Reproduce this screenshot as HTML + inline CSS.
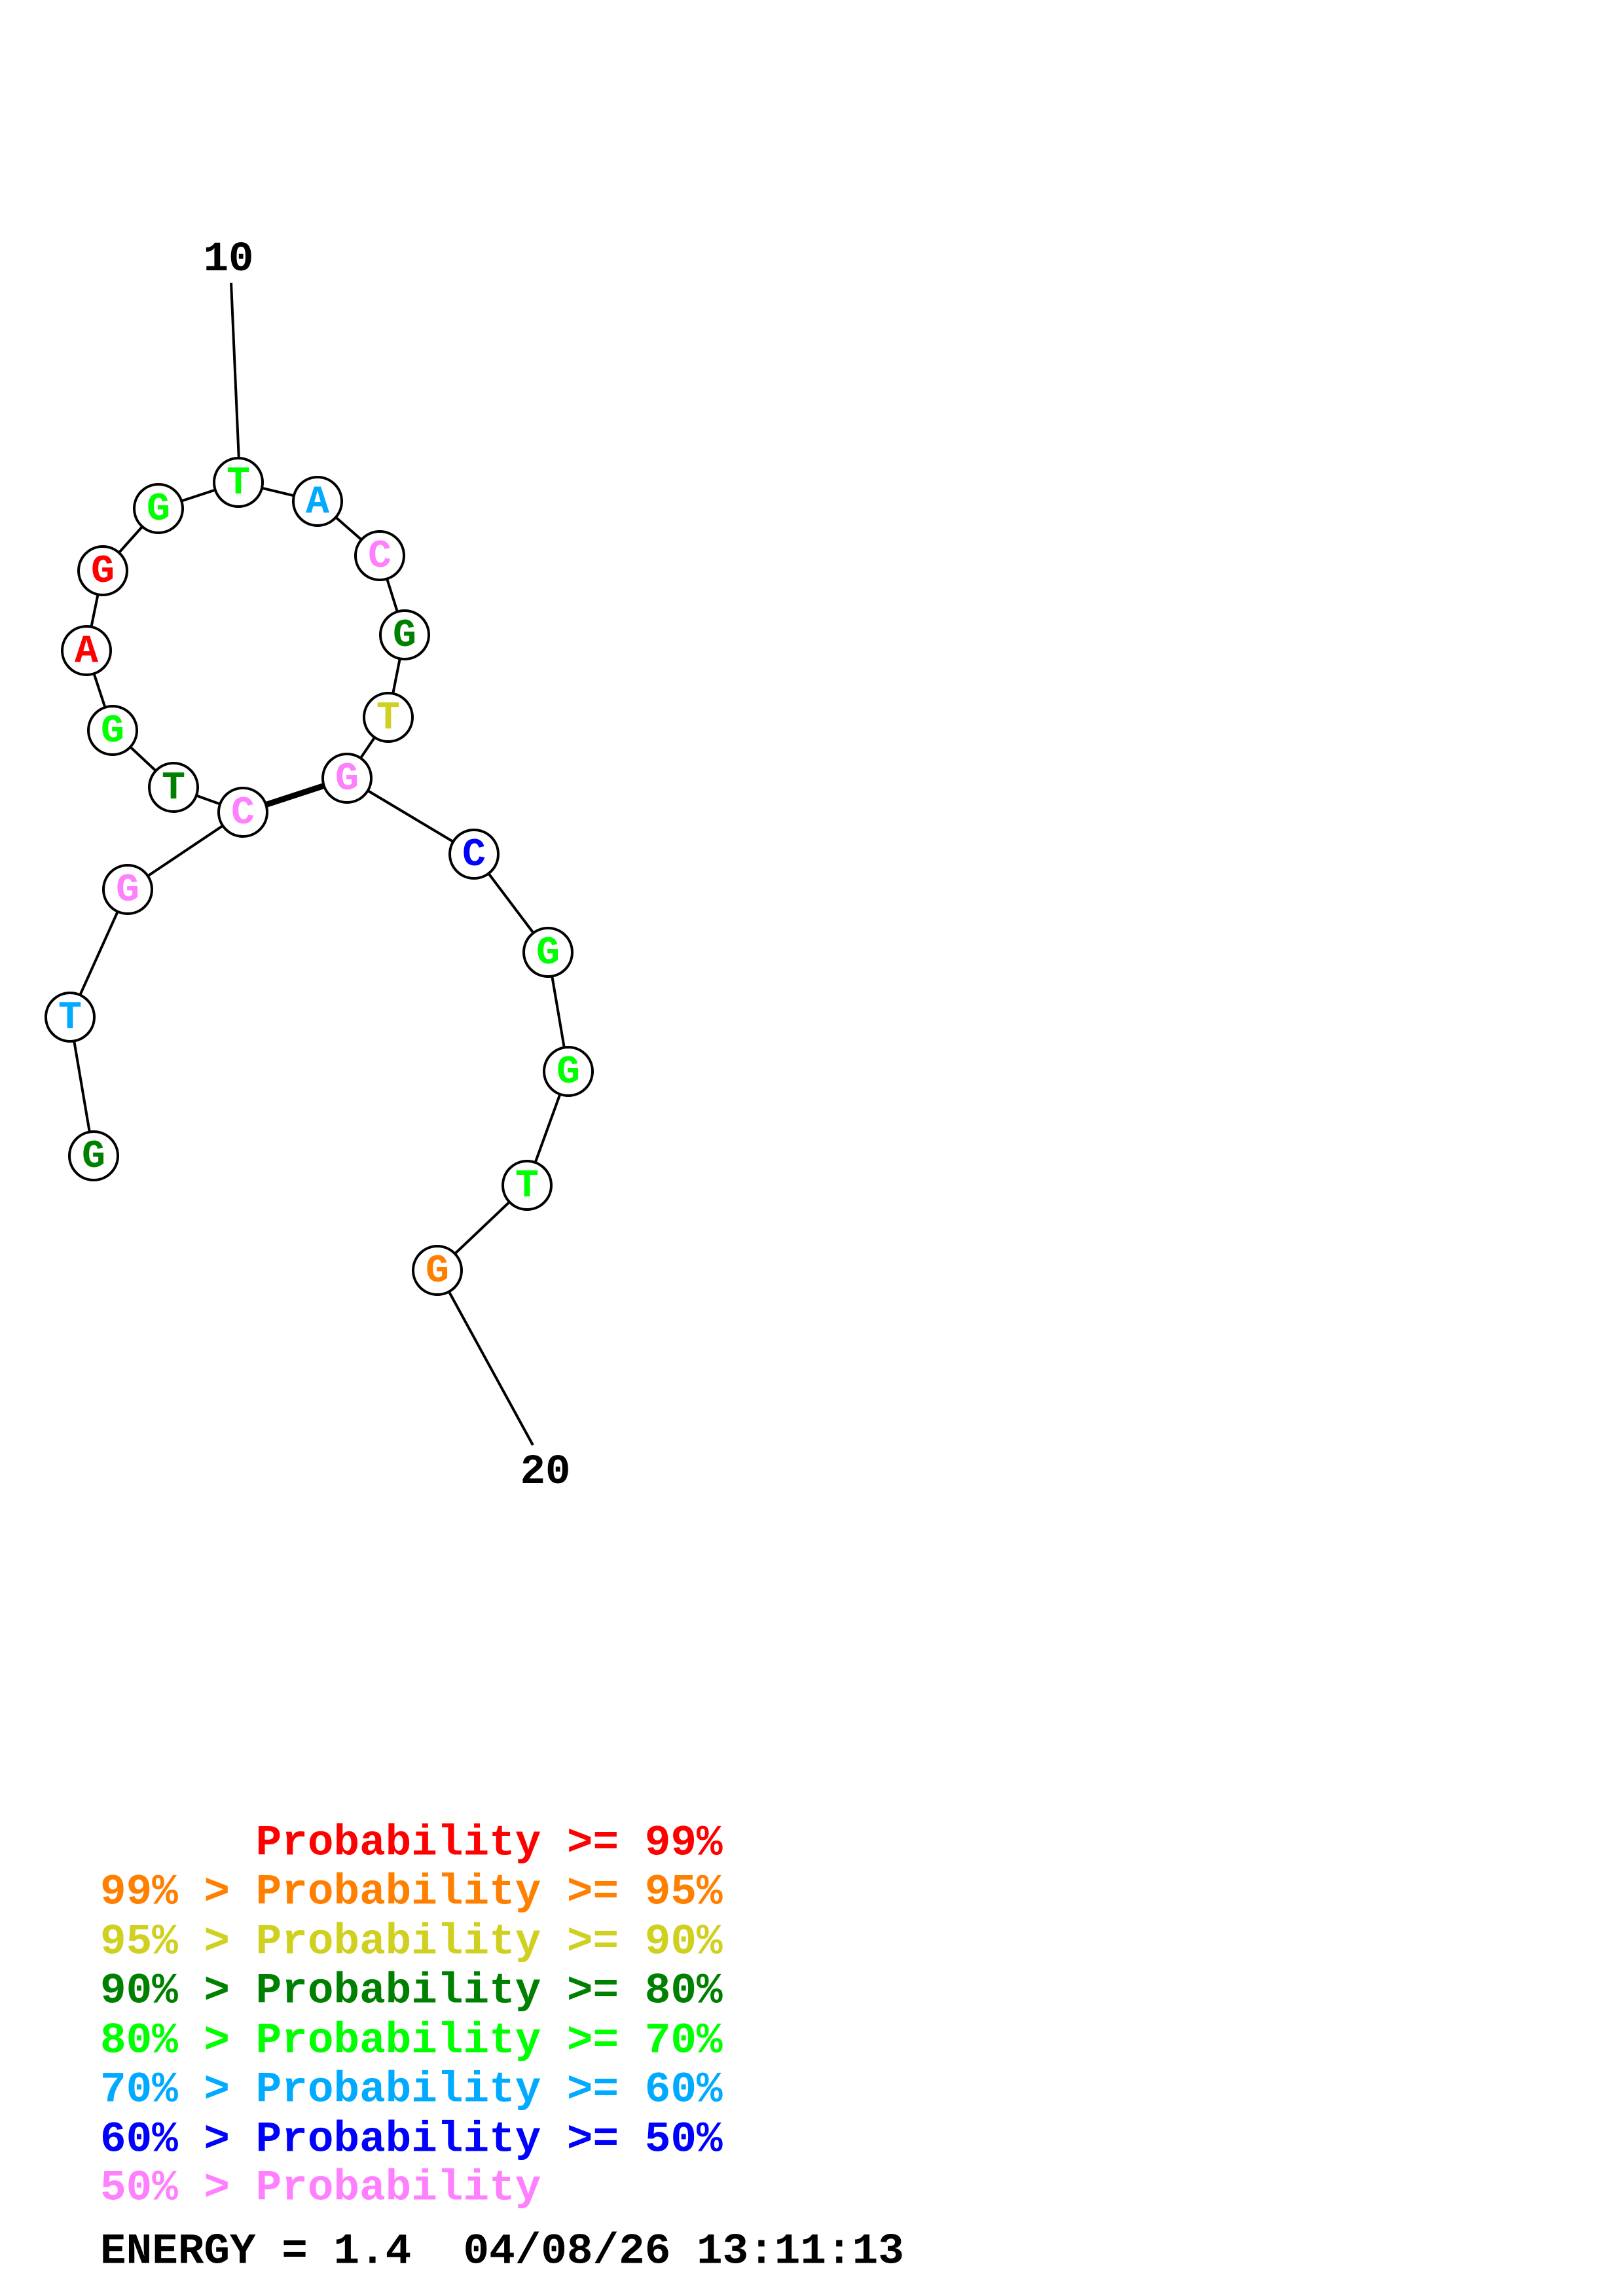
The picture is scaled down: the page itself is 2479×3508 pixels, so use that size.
<!DOCTYPE html>
<html><head><style>html,body{margin:0;padding:0;background:#fff}svg{display:block}text{white-space:pre}</style></head>
<body>
<svg width="2479" height="3508" viewBox="0 0 2479 3508" xmlns="http://www.w3.org/2000/svg">
<g stroke="#000" stroke-width="4" fill="none">
<line x1="353" y1="432" x2="365" y2="705"/>
<polyline points="364,737 485,766 580,849 618,970 593,1096 530,1189"/>
<polyline points="364,737 242,777 157,872 132,994 172,1116 265,1203 371,1241"/>
<polyline points="530,1189 724,1305 837,1455 868,1637 805,1811 668,1941 814,2208"/>
<polyline points="371,1241 195,1359 107,1554 143,1766"/>
<line x1="371" y1="1241" x2="530" y2="1189" stroke-width="9"/>
</g>
<g stroke="#000" stroke-width="4" fill="#fff">
<circle cx="364" cy="737" r="37"/><circle cx="485" cy="766" r="37"/><circle cx="580" cy="849" r="37"/>
<circle cx="618" cy="970" r="37"/><circle cx="593" cy="1096" r="37"/><circle cx="530" cy="1189" r="37"/>
<circle cx="242" cy="777" r="37"/><circle cx="157" cy="872" r="37"/><circle cx="132" cy="994" r="37"/>
<circle cx="172" cy="1116" r="37"/><circle cx="265" cy="1203" r="37"/><circle cx="371" cy="1241" r="37"/>
<circle cx="195" cy="1359" r="37"/><circle cx="107" cy="1554" r="37"/><circle cx="143" cy="1766" r="37"/>
<circle cx="724" cy="1305" r="37"/><circle cx="837" cy="1455" r="37"/><circle cx="868" cy="1637" r="37"/>
<circle cx="805" cy="1811" r="37"/><circle cx="668" cy="1941" r="37"/>
</g>
<g font-family="Liberation Mono, monospace" font-weight="bold" font-size="60" text-anchor="middle" dominant-baseline="central">
<text x="364" y="739" fill="#00ff00">T</text>
<text x="485" y="768" fill="#00aaff">A</text>
<text x="580" y="851" fill="#ff80ff">C</text>
<text x="618" y="972" fill="#008000">G</text>
<text x="593" y="1098" fill="#d0d020">T</text>
<text x="530" y="1191" fill="#ff80ff">G</text>
<text x="242" y="779" fill="#00ff00">G</text>
<text x="157" y="874" fill="#ff0000">G</text>
<text x="132" y="996" fill="#ff0000">A</text>
<text x="172" y="1118" fill="#00ff00">G</text>
<text x="265" y="1205" fill="#008000">T</text>
<text x="371" y="1243" fill="#ff80ff">C</text>
<text x="195" y="1361" fill="#ff80ff">G</text>
<text x="107" y="1556" fill="#00aaff">T</text>
<text x="143" y="1768" fill="#008000">G</text>
<text x="724" y="1307" fill="#0000ff">C</text>
<text x="837" y="1457" fill="#00ff00">G</text>
<text x="868" y="1639" fill="#00ff00">G</text>
<text x="805" y="1813" fill="#00ff00">T</text>
<text x="668" y="1943" fill="#ff8000">G</text>
<text x="349" y="397" fill="#000" font-size="64">10</text>
<text x="833" y="2250" fill="#000" font-size="64">20</text>
</g>
<g font-family="Liberation Mono, monospace" font-weight="bold" font-size="66" dominant-baseline="central">
<text x="153" y="2816" fill="#ff0000">      Probability &gt;= 99%</text>
<text x="153" y="2891" fill="#ff8000">99% &gt; Probability &gt;= 95%</text>
<text x="153" y="2967" fill="#d0d020">95% &gt; Probability &gt;= 90%</text>
<text x="153" y="3042" fill="#008000">90% &gt; Probability &gt;= 80%</text>
<text x="153" y="3118" fill="#00ff00">80% &gt; Probability &gt;= 70%</text>
<text x="153" y="3193" fill="#00aaff">70% &gt; Probability &gt;= 60%</text>
<text x="153" y="3269" fill="#0000ff">60% &gt; Probability &gt;= 50%</text>
<text x="153" y="3343" fill="#ff80ff">50% &gt; Probability</text>
<text x="153" y="3440" fill="#000">ENERGY = 1.4  04/08/26 13:11:13</text>
</g>
</svg>
</body></html>
